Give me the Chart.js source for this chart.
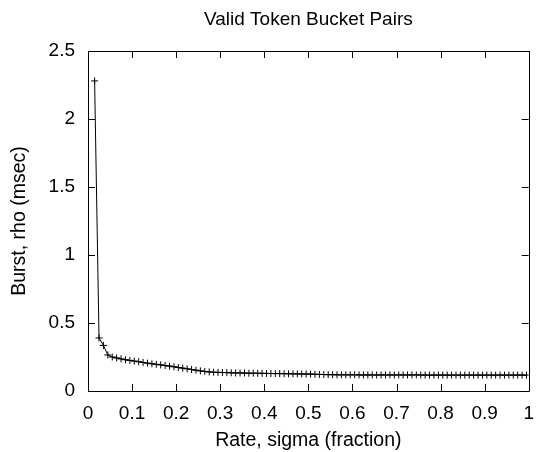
<!DOCTYPE html>
<html>
<head>
<meta charset="utf-8">
<script src="https://cdn.jsdelivr.net/npm/chart.js@4/dist/chart.umd.min.js"></script>
<style>
  html, body { margin: 0; padding: 0; background: #fff; overflow: hidden; }
  #wrap { width: 545px; height: 452px; }
</style>
</head>
<body>
<div id="wrap"><canvas id="chart"></canvas></div>
<script>
// Daten
const chartTitle = 'Valid Token Bucket Pairs';
const xTitle = 'Rate, sigma (fraction)';
const yTitle = 'Burst, rho (msec)';

const rate = [
    0.015, 0.025, 0.035, 0.045, 0.055, 0.065, 0.075, 0.085, 0.095, 0.105,
    0.115, 0.125, 0.135, 0.145, 0.155, 0.165, 0.175, 0.185, 0.195, 0.205,
    0.215, 0.225, 0.235, 0.245, 0.255, 0.265, 0.275, 0.285, 0.295, 0.305,
    0.315, 0.325, 0.335, 0.345, 0.355, 0.365, 0.375, 0.385, 0.395, 0.405,
    0.415, 0.425, 0.435, 0.445, 0.455, 0.465, 0.475, 0.485, 0.495, 0.505,
    0.515, 0.525, 0.535, 0.545, 0.555, 0.565, 0.575, 0.585, 0.595, 0.605,
    0.615, 0.625, 0.635, 0.645, 0.655, 0.665, 0.675, 0.685, 0.695, 0.705,
    0.715, 0.725, 0.735, 0.745, 0.755, 0.765, 0.775, 0.785, 0.795, 0.805,
    0.815, 0.825, 0.835, 0.845, 0.855, 0.865, 0.875, 0.885, 0.895, 0.905,
    0.915, 0.925, 0.935, 0.945, 0.955, 0.965, 0.975, 0.985, 0.995
];

const burst = [
    2.28, 0.39, 0.335, 0.265, 0.250, 0.243, 0.236, 0.230, 0.225, 0.220,
    0.215, 0.210, 0.205, 0.200, 0.196, 0.192, 0.187, 0.183, 0.178, 0.173,
    0.168, 0.163, 0.158, 0.153, 0.148, 0.144, 0.140, 0.138, 0.137, 0.136,
    0.135, 0.134, 0.133, 0.133, 0.132, 0.131, 0.131, 0.130, 0.130, 0.129,
    0.129, 0.128, 0.128, 0.127, 0.127, 0.126, 0.126, 0.125, 0.125, 0.124,
    0.123, 0.122, 0.121, 0.120, 0.120, 0.119, 0.119, 0.119, 0.119, 0.119,
    0.118, 0.118, 0.118, 0.118, 0.118, 0.118, 0.118, 0.118, 0.118, 0.118,
    0.118, 0.118, 0.118, 0.118, 0.118, 0.117, 0.117, 0.117, 0.117, 0.117,
    0.117, 0.117, 0.117, 0.117, 0.117, 0.117, 0.117, 0.117, 0.117, 0.117,
    0.117, 0.117, 0.117, 0.117, 0.117, 0.117, 0.117, 0.117, 0.117
];

const xTicks = [0, 0.1, 0.2, 0.3, 0.4, 0.5, 0.6, 0.7, 0.8, 0.9, 1];
const yTicks = [0, 0.5, 1, 1.5, 2, 2.5];

const points = rate.map((r, i) => ({ x: r, y: burst[i] }));
const fontFamily = '"Liberation Sans", Arial, Helvetica, sans-serif';

// gnuplot-artiger Rahmen mit nach innen zeigenden Ticks, Titel über der Plotfläche zentriert
const framePlugin = {
    id: 'frame',
    afterDraw(chart) {
        const ctx = chart.ctx;
        const a = chart.chartArea;
        const xs = chart.scales.x;
        const ys = chart.scales.y;
        const len = 7;
        ctx.save();
        ctx.strokeStyle = '#000';
        ctx.lineWidth = 1;
        ctx.beginPath();
        ctx.rect(Math.round(a.left) + 0.5, Math.round(a.top) + 0.5,
            Math.round(a.right - a.left), Math.round(a.bottom - a.top));
        xTicks.forEach(v => {
            const px = Math.round(xs.getPixelForValue(v)) + 0.5;
            ctx.moveTo(px, a.bottom);
            ctx.lineTo(px, a.bottom - len);
            ctx.moveTo(px, a.top);
            ctx.lineTo(px, a.top + len);
        });
        yTicks.forEach(v => {
            const py = Math.round(ys.getPixelForValue(v)) + 0.5;
            ctx.moveTo(a.left, py);
            ctx.lineTo(a.left + len, py);
            ctx.moveTo(a.right, py);
            ctx.lineTo(a.right - len, py);
        });
        ctx.stroke();

        ctx.fillStyle = '#000';
        ctx.font = '19px ' + fontFamily;
        ctx.textAlign = 'center';
        ctx.textBaseline = 'middle';
        ctx.fillText(chartTitle, (a.left + a.right) / 2, 20);
        ctx.restore();
    }
};

new Chart(document.getElementById('chart'), {
    type: 'scatter',
    data: {
        datasets: [{
            data: points,
            showLine: true,
            borderColor: '#000',
            borderWidth: 1,
            tension: 0,
            pointStyle: 'cross',
            pointRadius: 3.5,
            pointBorderColor: '#000',
            pointBorderWidth: 1,
            pointHoverRadius: 3.5
        }]
    },
    options: {
        responsive: true,
        maintainAspectRatio: false,
        animation: false,
        layout: { padding: { top: 51, left: 0, right: 0, bottom: 0 } },
        plugins: {
            legend: { display: false },
            tooltip: { enabled: false },
            title: { display: false }
        },
        scales: {
            x: {
                type: 'linear',
                min: 0,
                max: 1,
                afterBuildTicks(scale) {
                    scale.ticks = xTicks.map(v => ({ value: v }));
                },
                afterFit(scale) { scale.height = 61; },
                grid: { display: true, drawOnChartArea: false, drawTicks: false },
                border: { display: false },
                ticks: {
                    color: '#000',
                    padding: 11,
                    maxRotation: 0,
                    autoSkip: false,
                    font: { family: fontFamily, size: 19 },
                    callback: v => String(v)
                },
                title: {
                    display: true,
                    text: xTitle,
                    color: '#000',
                    font: { family: fontFamily, size: 19.5 },
                    padding: { top: 0, bottom: 0 }
                }
            },
            y: {
                type: 'linear',
                min: 0,
                max: 2.5,
                afterBuildTicks(scale) {
                    scale.ticks = yTicks.map(v => ({ value: v }));
                },
                afterFit(scale) { scale.width = 88; },
                grid: { display: true, drawOnChartArea: false, drawTicks: false },
                border: { display: false },
                ticks: {
                    color: '#000',
                    padding: 13,
                    autoSkip: false,
                    font: { family: fontFamily, size: 19 },
                    callback: v => String(v)
                },
                title: {
                    display: true,
                    text: yTitle,
                    color: '#000',
                    font: { family: fontFamily, size: 19.5 },
                    padding: { top: 8, bottom: 0 }
                }
            }
        }
    },
    plugins: [framePlugin]
});
</script>
</body>
</html>
